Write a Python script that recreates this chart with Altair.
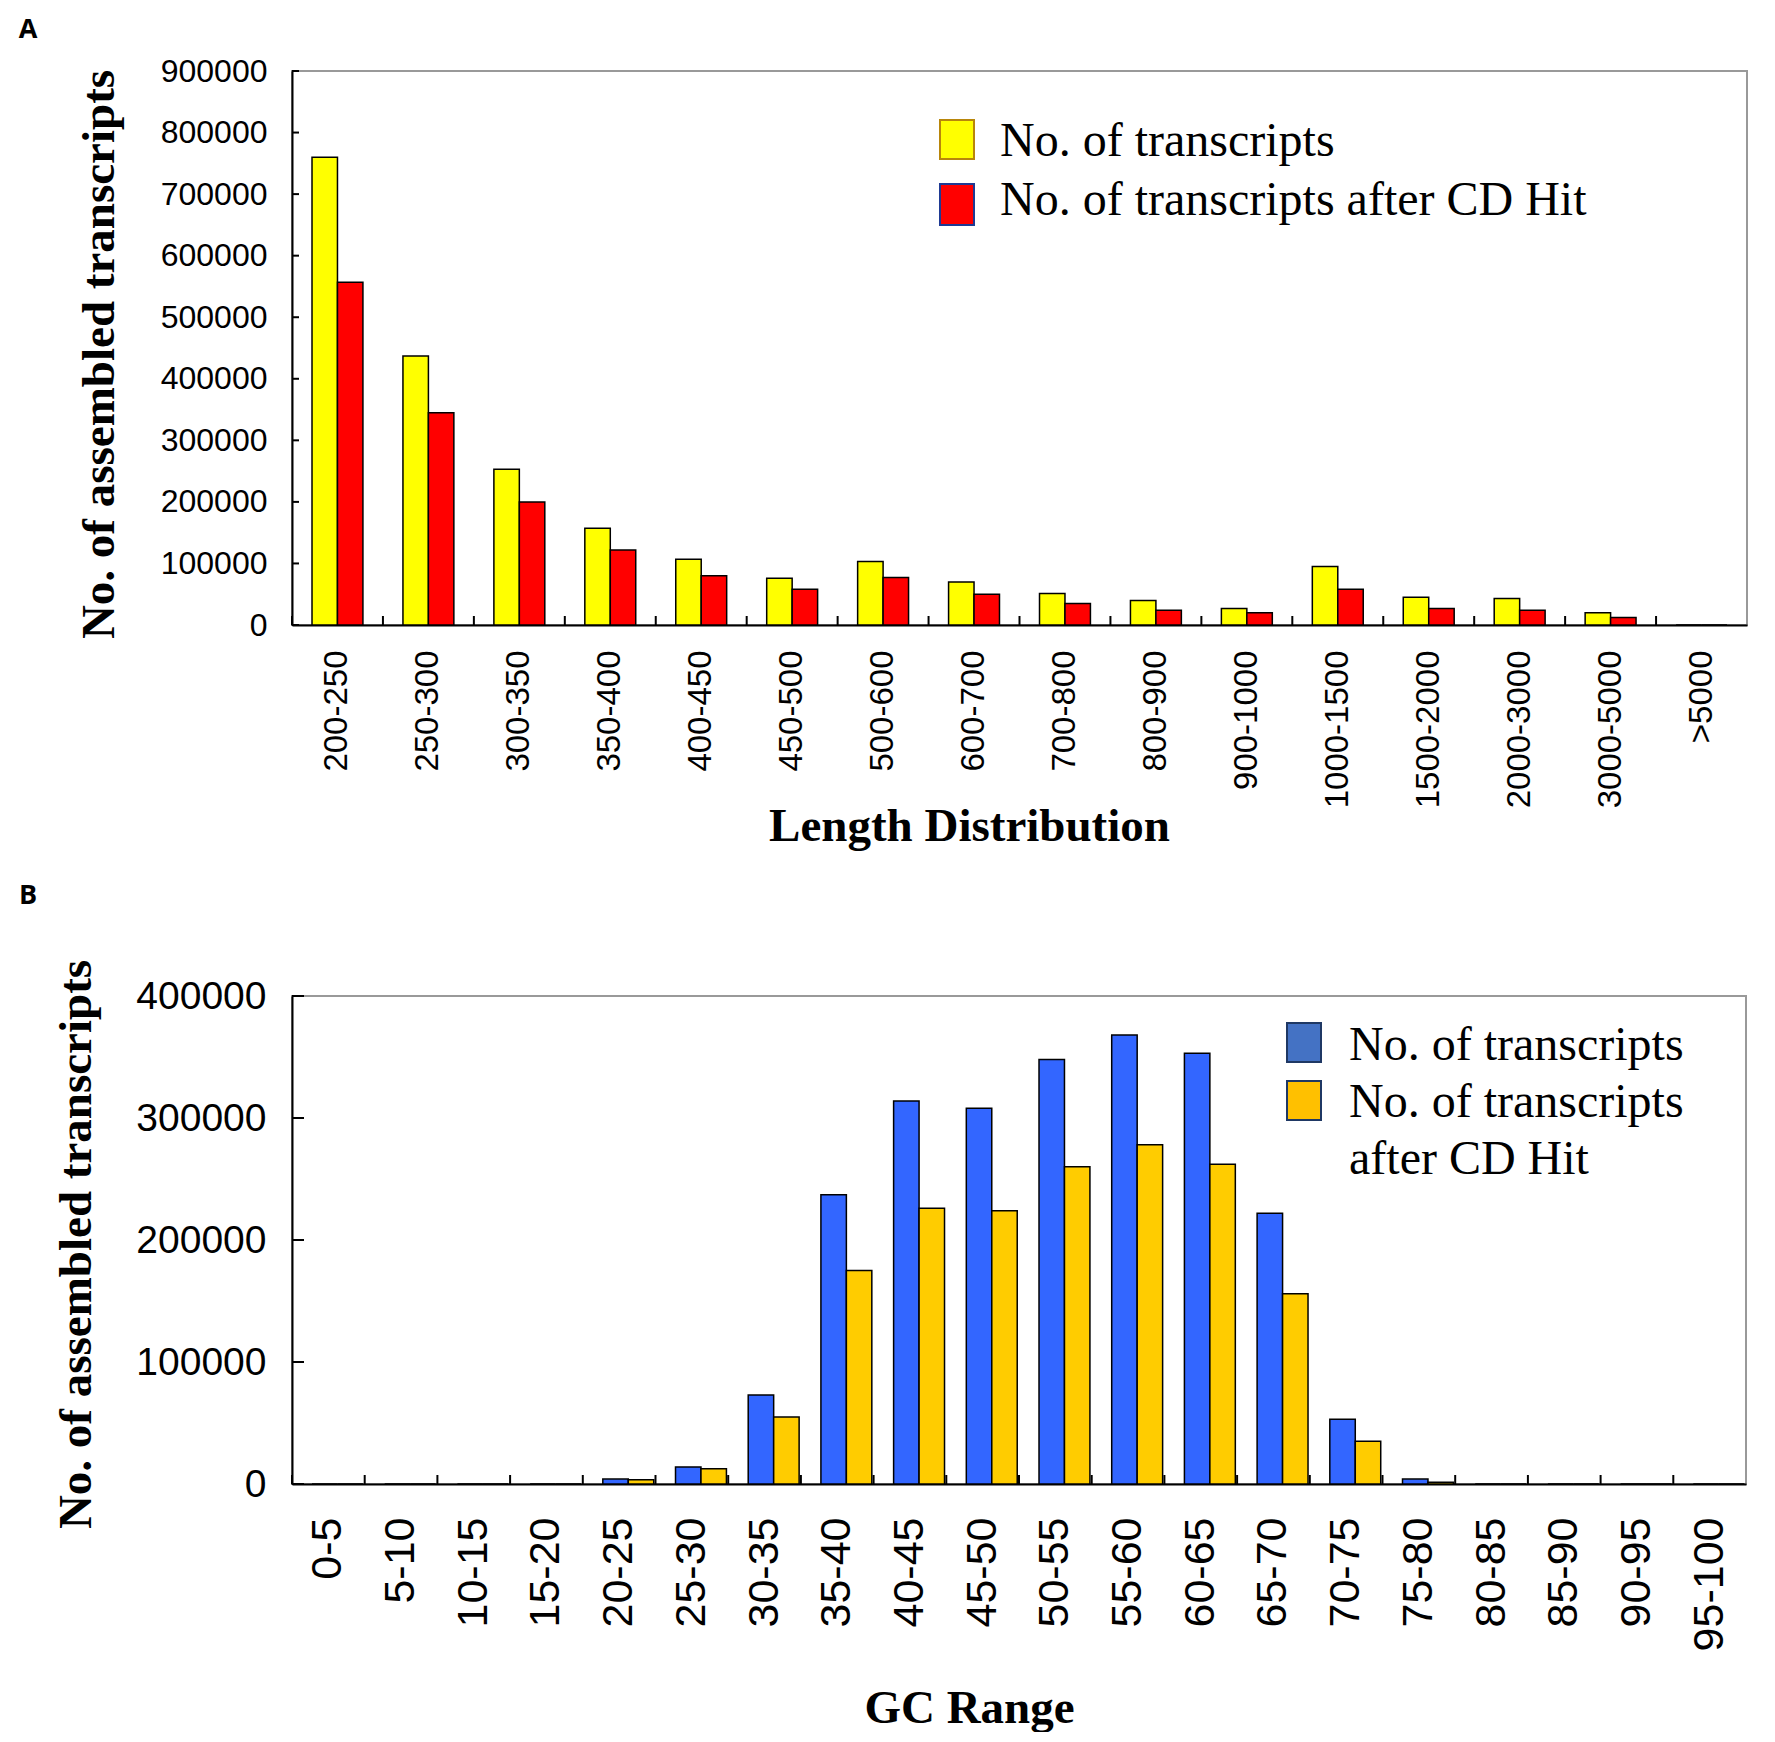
import altair as alt
import pandas as pd

# ---------------- data ----------------
len_cats = ["200-250", "250-300", "300-350", "350-400", "400-450", "450-500",
            "500-600", "600-700", "700-800", "800-900", "900-1000", "1000-1500",
            "1500-2000", "2000-3000", "3000-5000", ">5000"]
len_total = [760000, 437000, 253000, 157000, 107000, 76000, 103000, 70000,
             51000, 40000, 27000, 95000, 45000, 43000, 20000, 0]
len_cdhit = [557000, 345000, 200000, 122000, 80000, 58000, 77000, 50000,
             35000, 24000, 20000, 58000, 27000, 24000, 12000, 0]

gc_cats = ["0-5", "5-10", "10-15", "15-20", "20-25", "25-30", "30-35", "35-40",
           "40-45", "45-50", "50-55", "55-60", "60-65", "65-70", "70-75", "75-80",
           "80-85", "85-90", "90-95", "95-100"]
gc_total = [0, 0, 0, 0, 4000, 14000, 73000, 237000, 314000, 308000, 348000,
            368000, 353000, 222000, 53000, 4000, 0, 0, 0, 0]
gc_cdhit = [0, 0, 0, 0, 3500, 12500, 55000, 175000, 226000, 224000, 260000,
            278000, 262000, 156000, 35000, 1500, 0, 0, 0, 0]

S1 = "No. of transcripts"
S2 = "No. of transcripts after CD Hit"

len_yticks = [0, 100000, 200000, 300000, 400000, 500000, 600000, 700000, 800000, 900000]
gc_yticks = [0, 100000, 200000, 300000, 400000]

SANS = "Liberation Sans, Arial, sans-serif"
SERIF = "Liberation Serif, Times New Roman, serif"
LABEL_FONT = "Open Sans, DejaVu Sans, sans-serif"

one = pd.DataFrame({"k": [0]})


def swatch(x, y, w, h, fill, stroke):
    return alt.Chart(one).mark_rect(fill=fill, stroke=stroke, strokeWidth=2).encode(
        x=alt.value(x), x2=alt.value(x + w), y=alt.value(y), y2=alt.value(y + h))


def text(x, y, s, size=48, font=SERIF, weight="normal", align="left"):
    return alt.Chart(one).mark_text(text=s, font=font, fontSize=size, fontWeight=weight,
                                    align=align, baseline="middle", color="black").encode(
        x=alt.value(x), y=alt.value(y))


def panel(cats, v1, v2, colors, ymax, yticks, W, H, xtitle, ytitle,
          xlab_size, ylab_size, xlab_pad, ylab_pad, xtitle_xy, ytitle_xy, ytick_len):
    df = pd.DataFrame({
        "cat": cats * 2,
        "series": [S1] * len(cats) + [S2] * len(cats),
        "value": v1 + v2,
    })
    xscale = alt.Scale(domain=cats, paddingInner=0, paddingOuter=0)
    yscale = alt.Scale(domain=[0, ymax], nice=False)
    xaxis = alt.Axis(title=xtitle, labelAngle=270, labelFont=SANS,
                     labelFontSize=xlab_size, labelPadding=xlab_pad, labelLimit=400,
                     titleFont=SERIF, titleFontSize=47, titleFontWeight="bold",
                     titleX=xtitle_xy[0], titleY=xtitle_xy[1],
                     titleBaseline="middle", titleAlign="center")
    yaxis = alt.Axis(title=ytitle, values=yticks, format="d", labelFont=SANS,
                     labelFontSize=ylab_size, labelPadding=ylab_pad,
                     titleFont=SERIF, titleFontSize=47, titleFontWeight="bold",
                     titleX=ytitle_xy[0], titleY=ytitle_xy[1],
                     titleBaseline="middle", titleAlign="center", titleAngle=270)
    bars = alt.Chart(df).mark_bar(stroke="black", strokeWidth=1.5).encode(
        x=alt.X("cat:N", sort=cats, scale=xscale, axis=xaxis),
        xOffset=alt.XOffset("series:N", sort=[S1, S2],
                            scale=alt.Scale(domain=[S1, S2], paddingInner=0, paddingOuter=0.786)),
        y=alt.Y("value:Q", scale=yscale, axis=yaxis),
        fill=alt.Fill("series:N", scale=alt.Scale(domain=[S1, S2], range=colors), legend=None),
    )
    xt = alt.Chart(pd.DataFrame({"cat": cats})).mark_rule(color="black", strokeWidth=2).encode(
        x=alt.X("cat:N", sort=cats, scale=xscale, bandPosition=0, axis=xaxis),
        y=alt.value(H), y2=alt.value(H - 9))
    yt = alt.Chart(pd.DataFrame({"value": yticks})).mark_rule(color="black", strokeWidth=2).encode(
        y=alt.Y("value:Q", scale=yscale, axis=yaxis),
        x=alt.value(0), x2=alt.value(ytick_len))
    return [bars, xt, yt]


# ---------------- panel A ----------------
WA, HA = 1455, 554
layers_a = panel(len_cats, len_total, len_cdhit, ["#FFFF00", "#FF0000"], 900000, len_yticks,
                 WA, HA, "Length Distribution", "No. of assembled transcripts",
                 33, 32, 25, 25, (677, 201), (-193, 283), 7)
legend_a = [
    swatch(648, 49, 34, 39, "#FFFF00", "#B8860B"),
    swatch(648, 113, 34, 41, "#FF0000", "#1F3A93"),
    text(708, 71, S1),
    text(708, 130, S2),
    text(-264, -41, "A", size=27, font=LABEL_FONT, weight="bold", align="center"),
]
chart_a = alt.layer(*layers_a, *legend_a).properties(width=WA, height=HA)

# ---------------- panel B ----------------
WB, HB = 1454, 488
layers_b = panel(gc_cats, gc_total, gc_cdhit, ["#3366FF", "#FFCC00"], 400000, gc_yticks,
                 WB, HB, "GC Range", "No. of assembled transcripts",
                 43, 39, 33, 26, (677, 224), (-216, 248), 12)
legend_b = [
    swatch(995, 27, 34, 39, "#4472C4", "#1F3864"),
    swatch(995, 85, 34, 39, "#FFC000", "#1F3864"),
    text(1057, 50, "No. of transcripts"),
    text(1057, 107, "No. of transcripts"),
    text(1057, 164, "after CD Hit"),
    text(-264, -100, "B", size=27, font=LABEL_FONT, weight="bold", align="center"),
]
chart_b = alt.layer(*layers_b, *legend_b).properties(width=WB, height=HB)

chart = alt.concat(chart_a, chart_b, columns=1, spacing=31, align="none").resolve_scale(
    fill="independent"
).configure_view(
    stroke="#999999", strokeWidth=2
).configure_axis(
    grid=False, ticks=False, domainColor="black", domainWidth=2,
    labelColor="black", titleColor="black"
).properties(
    background="white",
    padding={"left": 9, "top": 7, "right": 5, "bottom": 0},
)

chart.save("out.html", embed_options={"renderer": "svg", "actions": False})
